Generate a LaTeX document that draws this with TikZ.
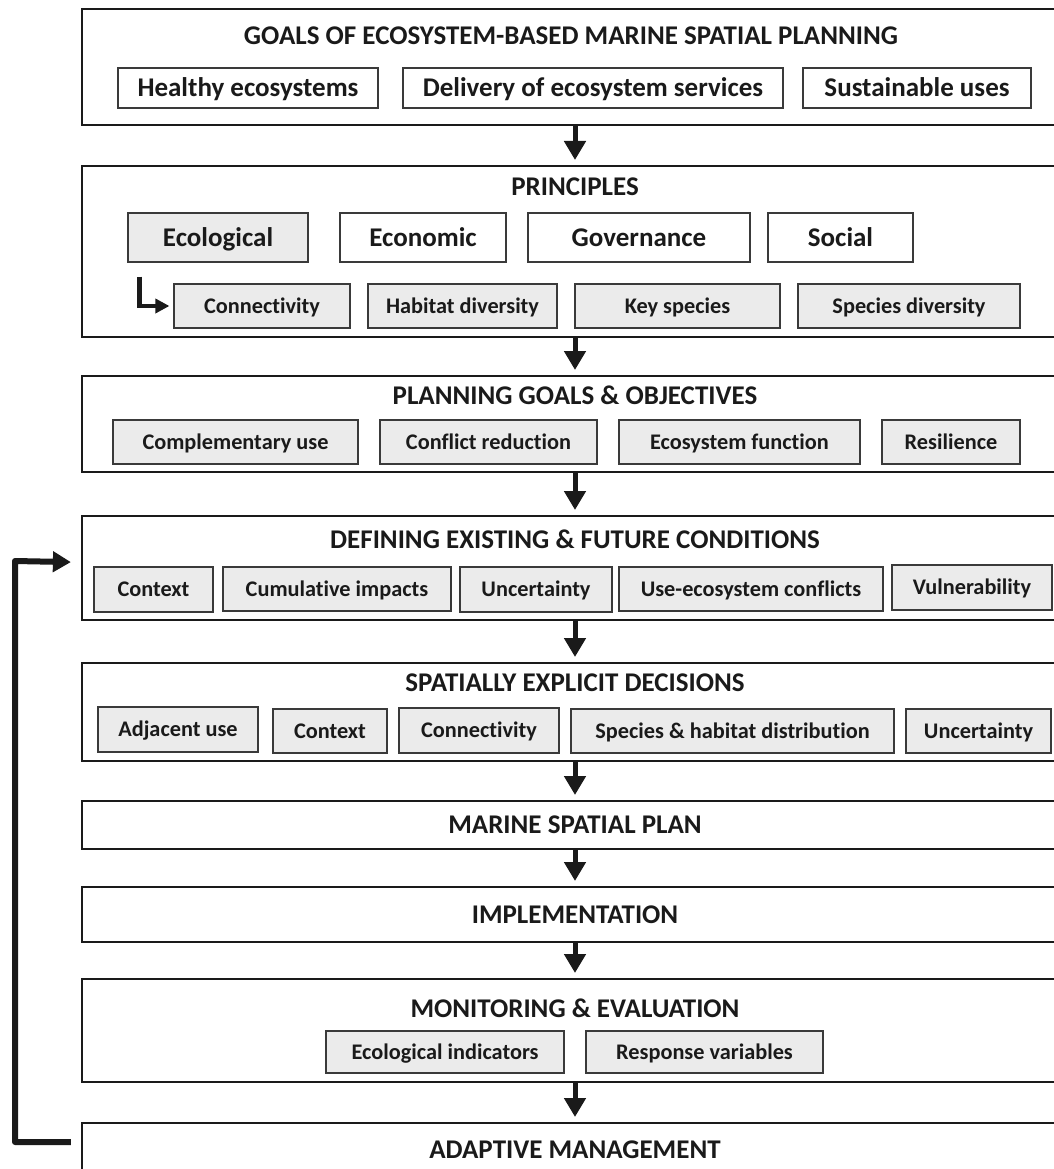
\documentclass[tikz,border=0pt]{standalone}
\usepackage{fontspec}
\setmainfont{Carlito}[Ligatures={NoCommon}]
\usetikzlibrary{arrows.meta}
\definecolor{subgray}{HTML}{EBEBEB}
\definecolor{ink}{HTML}{1A1A1A}
\definecolor{edge}{HTML}{3A3A3A}
\begin{document}
\begin{tikzpicture}[x=1pt,y=-1pt,
  outer/.style={draw=ink, line width=2.2pt, fill=white, minimum width=986pt, inner sep=0pt, anchor=north},
  ttl/.style={font=\fontsize{27}{31}\selectfont\bfseries, text=ink, inner sep=0pt, text height=17.4pt, text depth=0pt},
  sbbase/.style={draw=edge, line width=1.2pt, inner sep=0pt, text=ink},
  big/.style={sbbase, fill=white, font=\fontsize{27}{31}\selectfont\bfseries, text height=17.4pt, text depth=0pt},
  bigg/.style={big, fill=subgray},
  small/.style={sbbase, fill=subgray, font=\fontsize{22.3}{26}\selectfont\bfseries, text height=14.4pt, text depth=0pt},
  flow/.style={draw=ink, line width=5pt, -{Triangle[width=21pt,length=19pt]}, shorten >=5pt},
  fbline/.style={draw=ink, line width=6pt, line join=round, -{Triangle[width=20pt,length=18pt]}},
  lline/.style={draw=ink, line width=4.5pt, line join=miter, -{Triangle[width=14pt,length=14pt]}, shorten >=4pt}
]
\useasboundingbox (0,0) rectangle (1053,1169);
\fill[white] (0,0) rectangle (1053,1169);

% outer boxes
\node[outer, minimum height=116pt] (B1) at (575,8) {};
\node[outer, minimum height=171pt] (B2) at (575,165) {};
\node[outer, minimum height=96pt]  (B3) at (575,375) {};
\node[outer, minimum height=104pt] (B4) at (575,515) {};
\node[outer, minimum height=98pt]  (B5) at (575,662) {};
\node[outer, minimum height=48pt]  (B6) at (575,800) {};
\node[outer, minimum height=55pt]  (B7) at (575,886) {};
\node[outer, minimum height=103pt] (B8) at (575,978) {};
\node[outer, minimum height=88pt]  (B9) at (575,1122) {};

% titles
\node[ttl] (T1) at (571,36) {GOALS OF ECOSYSTEM-BASED MARINE SPATIAL PLANNING};
\node[ttl] (T2) at (575,187) {PRINCIPLES};
\node[ttl] (T3) at (575,396) {PLANNING GOALS \& OBJECTIVES};
\node[ttl] (T4) at (575,540) {DEFINING EXISTING \& FUTURE CONDITIONS};
\node[ttl] (T5) at (575,683) {SPATIALLY EXPLICIT DECISIONS};
\node[ttl] (T6) at (575,825) {MARINE SPATIAL PLAN};
\node[ttl] (T7) at (575,915) {IMPLEMENTATION};
\node[ttl] (T8) at (575,1009) {MONITORING \& EVALUATION};
\node[ttl] (T9) at (575,1150) {ADAPTIVE MANAGEMENT};

% goals
\node[big, minimum width=260pt, minimum height=40pt] (g1) at (248,88) {Healthy ecosystems};
\node[big, minimum width=380pt, minimum height=40pt] (g2) at (593,88) {Delivery of ecosystem services};
\node[big, minimum width=228pt, minimum height=40pt] (g3) at (917,88) {Sustainable uses};

% principles
\node[bigg, minimum width=180pt, minimum height=49pt] (p1) at (218,237.5) {Ecological};
\node[big, minimum width=166pt, minimum height=49pt] (p2) at (423,237.5) {Economic};
\node[big, minimum width=222pt, minimum height=49pt] (p3) at (639,237.5) {Governance};
\node[big, minimum width=145pt, minimum height=49pt] (p4) at (840.5,237.5) {Social};
\node[small, minimum width=176pt, minimum height=44pt] (q1) at (262,306) {Connectivity};
\node[small, minimum width=189pt, minimum height=44pt] (q2) at (462.5,306) {Habitat diversity};
\node[small, minimum width=205pt, minimum height=44pt] (q3) at (677.5,306) {Key species};
\node[small, minimum width=222pt, minimum height=44pt] (q4) at (909,306) {Species diversity};

% planning goals
\node[small, minimum width=245pt, minimum height=44pt] (r1) at (235.5,442) {Complementary use};
\node[small, minimum width=217pt, minimum height=44pt] (r2) at (488.5,442) {Conflict reduction};
\node[small, minimum width=241pt, minimum height=44pt] (r3) at (739.5,442) {Ecosystem function};
\node[small, minimum width=138pt, minimum height=44pt] (r4) at (951,442) {Resilience};

% existing & future conditions
\node[small, minimum width=119pt, minimum height=45pt] (s1) at (153.5,589.5) {Context};
\node[small, minimum width=228pt, minimum height=44pt] (s2) at (337,589) {Cumulative impacts};
\node[small, minimum width=152pt, minimum height=45pt] (s3) at (536,589.5) {Uncertainty};
\node[small, minimum width=264pt, minimum height=44pt] (s4) at (751,589) {Use-ecosystem conflicts};
\node[small, minimum width=160pt, minimum height=45pt] (s5) at (972,587.5) {Vulnerability};

% spatially explicit decisions
\node[small, minimum width=160pt, minimum height=45pt] (t1) at (178,729.5) {Adjacent use};
\node[small, minimum width=114pt, minimum height=44pt] (t2) at (330,731) {Context};
\node[small, minimum width=160pt, minimum height=45pt] (t3) at (479,730.5) {Connectivity};
\node[small, minimum width=323pt, minimum height=44pt] (t4) at (732.5,731) {Species \& habitat distribution};
\node[small, minimum width=145pt, minimum height=44pt] (t5) at (978.5,731) {Uncertainty};

% monitoring
\node[small, minimum width=238pt, minimum height=42pt] (u1) at (445,1052) {Ecological indicators};
\node[small, minimum width=237pt, minimum height=42pt] (u2) at (704.5,1052) {Response variables};

% main flow arrows
\draw[flow] (B1.south) -- (B2.north);
\draw[flow] (B2.south) -- (B3.north);
\draw[flow] (B3.south) -- (B4.north);
\draw[flow] (B4.south) -- (B5.north);
\draw[flow] (B5.south) -- (B6.north);
\draw[flow] (B6.south) -- (B7.north);
\draw[flow] (B7.south) -- (B8.north);
\draw[flow] (B8.south) -- (B9.north);

% L arrow from Ecological to its sub-principles
\coordinate (la) at ([xshift=12pt,yshift=-14pt]p1.south west);
\draw[lline] (la) |- (q1.west);

% feedback arrow
\coordinate (fbs) at ([xshift=-10pt,yshift=-20pt]B9.north west);
\coordinate (fbe) at ([xshift=-10pt,yshift=6pt]B4.west);
\coordinate (fc1) at (15,1142);
\coordinate (fc2) at (15,561);
\draw[fbline] (fbs) -- (fc1) -- (fc2) -- (fbe);
\end{tikzpicture}
\end{document}
